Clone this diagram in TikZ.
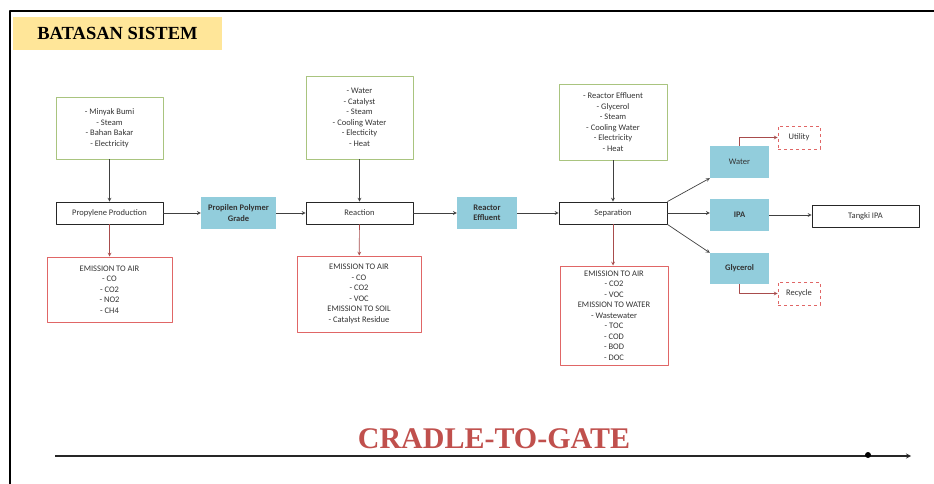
\documentclass[tikz,border=0pt]{standalone}
\usepackage{fontspec}
\setmainfont{Carlito}
\newfontfamily\titlefont{Liberation Serif}
\usetikzlibrary{positioning}

\definecolor{inputgreen}{HTML}{A9C47F}
\definecolor{emisred}{HTML}{E06666}
\definecolor{prodblue}{HTML}{92CDDC}
\definecolor{titleyellow}{HTML}{FFE699}
\definecolor{gatered}{HTML}{C0504D}
\definecolor{linegray}{HTML}{404040}

\tikzset{
  inbox/.style={draw=inputgreen, line width=0.9pt, align=center, inner sep=0pt},
  procbox/.style={draw=black!85, line width=0.9pt, align=center, inner sep=0pt, minimum width=107, minimum height=22},
  emibox/.style={draw=emisred, line width=1pt, align=center, inner sep=0pt},
  prodbox/.style={fill=prodblue, align=center, inner sep=0pt, minimum width=59, minimum height=32},
  dashbox/.style={draw=emisred, dashed, line width=0.8pt, align=center, inner sep=0pt, minimum width=42, minimum height=23},
  flow/.style={->, draw=linegray, line width=0.7pt},
  emis/.style={->, draw=emisred!75!black, line width=0.7pt},
}

\begin{document}
\begin{tikzpicture}[x=1pt, y=-1pt, font=\fontsize{8.5}{10.5}\selectfont, line join=round, >=stealth, text=black!80]
\useasboundingbox (0,0) rectangle (934,484);
% frame and title
\draw[line width=1.6pt] (10,484) -- (10,11) -- (934,11);
\node[fill=titleyellow, minimum width=209, minimum height=33, inner sep=0pt, text=black,
  font=\titlefont\bfseries\fontsize{18.5}{20}\selectfont] (title) at (117.5,33.5) {BATASAN SISTEM};

% inputs
\node[inbox, minimum width=107, minimum height=62] (in1) at (109.5,128)
  {- Minyak Bumi\\- Steam\\- Bahan Bakar\\- Electricity};
\node[inbox, minimum width=107, minimum height=83] (in2) at (359.5,117.5)
  {- Water\\- Catalyst\\- Steam\\- Cooling Water\\- Electicity\\- Heat};
\node[inbox, minimum width=108, minimum height=76] (in3) at (613,122)
  {- Reactor Effluent\\- Glycerol\\- Steam\\- Cooling Water\\- Electricity\\- Heat};

% process steps
\node[procbox] (prod1) at (109.5,213) {Propylene Production};
\node[procbox] (reac) at (359.5,213) {Reaction};
\node[procbox, minimum width=108] (sep) at (613,213) {Separation};
\node[procbox] (tank) at (865.5,216) {Tangki IPA};

% products
\node[prodbox, minimum width=75, font=\fontsize{8.5}{10.5}\selectfont\bfseries] (pp) at (238.5,213) {Propilen Polymer\\Grade};
\node[prodbox, minimum width=60, font=\fontsize{8.5}{10.5}\selectfont\bfseries] (eff) at (487,213) {Reactor\\Effluent};
\node[prodbox] (water) at (739.5,162) {Water};
\node[prodbox, font=\fontsize{8.5}{10.5}\selectfont\bfseries] (ipa) at (739.5,215) {IPA};
\node[prodbox, minimum height=31, font=\fontsize{8.5}{10.5}\selectfont\bfseries] (gly) at (739.5,268.5) {Glycerol};
\node[dashbox] (util) at (799,137.5) {Utility};
\node[dashbox] (recy) at (799,293.5) {Recycle};

% emissions
\node[emibox, minimum width=125, minimum height=65] (emi1) at (109.5,289.5)
  {EMISSION TO AIR\\- CO\\- CO2\\- NO2\\- CH4};
\node[emibox, minimum width=124, minimum height=76] (emi2) at (359,294)
  {EMISSION TO AIR\\- CO\\- CO2\\- VOC\\EMISSION TO SOIL\\- Catalyst Residue};
\node[emibox, minimum width=108, minimum height=99] (emi3) at (614,315.5)
  {EMISSION TO AIR\\- CO2\\- VOC\\EMISSION TO WATER\\- Wastewater\\- TOC\\- COD\\- BOD\\- DOC};

% connectors
\draw[flow] (in1) -- (prod1);
\draw[flow] (in2) -- (reac);
\draw[flow] (in3) -- (sep);
\draw[emis] (prod1) -- (emi1);
\draw[emis] (reac) -- (emi2);
\draw[emis] (sep.south) -- (sep.south |- emi3.north);
\draw[flow] (prod1) -- (pp);
\draw[flow] (pp) -- (reac);
\draw[flow] (reac) -- (eff);
\draw[flow] (eff) -- (sep);
\draw[flow] (sep.north east) -- (water.south west);
\draw[flow] (sep.east) -- (sep.east -| ipa.west);
\draw[flow] (sep.south east) -- (gly.north west);
\draw[flow] (ipa.east) -- (ipa.east -| tank.west);
\draw[emis] (water.north) |- (util.west);
\draw[emis] (gly.south) |- (recy.west);

% cradle-to-gate line
\coordinate (cgstart) at (55,456);
\coordinate (cgend) at (911,456);
\coordinate (gate) at (868,455);
\draw[->, line width=1.2pt, draw=black!85] (cgstart) -- (cgend);
\fill (gate) circle (3pt);
\node[text=gatered, font=\titlefont\bfseries\fontsize{30}{32}\selectfont] (cgtext) at (494,439) {CRADLE-TO-GATE};
\end{tikzpicture}
\end{document}
